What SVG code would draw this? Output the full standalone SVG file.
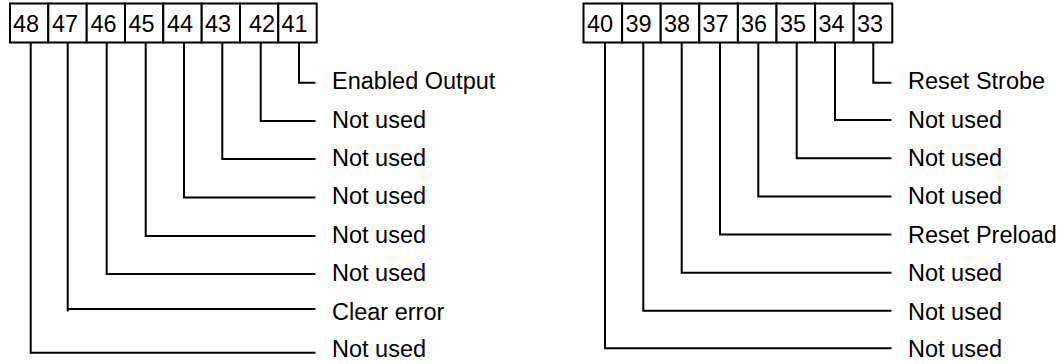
<svg xmlns="http://www.w3.org/2000/svg" width="1064" height="364" viewBox="0 0 1064 364">
<style>
.cell{fill:#fff;stroke:#000;stroke-width:2}
.num{font-family:"Liberation Sans",Arial,sans-serif;font-size:23.5px;fill:#000}
.lbl{font-family:"Liberation Sans",Arial,sans-serif;font-size:23.5px;fill:#000}
.wire{fill:none;stroke:#000;stroke-width:2;stroke-linecap:square;stroke-linejoin:miter}
</style>
<rect width="1064" height="364" fill="#fff"/>
<g id="connector-box-left">
<g id="pin-48"><rect class="cell" x="10" y="3.5" width="38.3" height="39"/><text class="num" x="13" y="32">48</text></g>
<g id="pin-47"><rect class="cell" x="48.3" y="3.5" width="38.4" height="39"/><text class="num" x="52" y="32">47</text></g>
<g id="pin-46"><rect class="cell" x="86.7" y="3.5" width="38.3" height="39"/><text class="num" x="90.5" y="32">46</text></g>
<g id="pin-45"><rect class="cell" x="125" y="3.5" width="38.3" height="39"/><text class="num" x="128.5" y="32">45</text></g>
<g id="pin-44"><rect class="cell" x="163.3" y="3.5" width="38.4" height="39"/><text class="num" x="167" y="32">44</text></g>
<g id="pin-43"><rect class="cell" x="201.7" y="3.5" width="38.3" height="39"/><text class="num" x="205" y="32">43</text></g>
<g id="pin-42"><rect class="cell" x="240" y="3.5" width="38.3" height="39"/><text class="num" x="249" y="32">42</text></g>
<g id="pin-41"><rect class="cell" x="278.3" y="3.5" width="38.4" height="39"/><text class="num" x="281.5" y="32">41</text></g>
</g>
<g id="connector-box-right">
<g id="pin-40"><rect class="cell" x="583.5" y="3.5" width="38.6" height="39"/><text class="num" x="587" y="32">40</text></g>
<g id="pin-39"><rect class="cell" x="622.1" y="3.5" width="38.6" height="39"/><text class="num" x="625.5" y="32">39</text></g>
<g id="pin-38"><rect class="cell" x="660.7" y="3.5" width="38.6" height="39"/><text class="num" x="664" y="32">38</text></g>
<g id="pin-37"><rect class="cell" x="699.3" y="3.5" width="38.6" height="39"/><text class="num" x="702.5" y="32">37</text></g>
<g id="pin-36"><rect class="cell" x="737.9" y="3.5" width="38.6" height="39"/><text class="num" x="741" y="32">36</text></g>
<g id="pin-35"><rect class="cell" x="776.5" y="3.5" width="38.6" height="39"/><text class="num" x="780" y="32">35</text></g>
<g id="pin-34"><rect class="cell" x="815.1" y="3.5" width="38.6" height="39"/><text class="num" x="818.5" y="32">34</text></g>
<g id="pin-33"><rect class="cell" x="853.7" y="3.5" width="38.6" height="39"/><text class="num" x="857" y="32">33</text></g>
</g>
<g id="connectors">
<path class="wire" d="M299 43.5V82.7H314.5"/>
<path class="wire" d="M260.7 43.5V121H314.5"/>
<path class="wire" d="M222.3 43.5V159H314.5"/>
<path class="wire" d="M184 43.5V197.5H314.5"/>
<path class="wire" d="M145.7 43.5V236H314.5"/>
<path class="wire" d="M106.7 43.5V274H314.5"/>
<path class="wire" d="M67.7 43.5V310.5M67.7 309H314.5"/>
<path class="wire" d="M30.7 43.5V352.7H314.5"/>
<path class="wire" d="M873.3 43.5V82.7H890.5"/>
<path class="wire" d="M835 43.5V120H890.5"/>
<path class="wire" d="M796.7 43.5V158.3H890.5"/>
<path class="wire" d="M758.3 43.5V196.5H890.5"/>
<path class="wire" d="M720 43.5V234.5H890.5"/>
<path class="wire" d="M681.7 43.5V272.7H890.5"/>
<path class="wire" d="M643.3 43.5V310.7H890.5"/>
<path class="wire" d="M605 43.5V348.3H890.5"/>
</g>
<g id="labels-left">
<text id="label-41" class="lbl" x="332" y="89">Enabled Output</text>
<text id="label-42" class="lbl" x="332" y="127.5">Not used</text>
<text id="label-43" class="lbl" x="332" y="166">Not used</text>
<text id="label-44" class="lbl" x="332" y="204.3">Not used</text>
<text id="label-45" class="lbl" x="332" y="242.7">Not used</text>
<text id="label-46" class="lbl" x="332" y="281.2">Not used</text>
<text id="label-47" class="lbl" x="332" y="319.6">Clear error</text>
<text id="label-48" class="lbl" x="332" y="357.3">Not used</text>
</g>
<g id="labels-right">
<text id="label-33" class="lbl" x="908" y="89">Reset Strobe</text>
<text id="label-34" class="lbl" x="908" y="127.5">Not used</text>
<text id="label-35" class="lbl" x="908" y="166">Not used</text>
<text id="label-36" class="lbl" x="908" y="204.3">Not used</text>
<text id="label-37" class="lbl" x="908" y="242.7">Reset Preload</text>
<text id="label-38" class="lbl" x="908" y="281.2">Not used</text>
<text id="label-39" class="lbl" x="908" y="319.6">Not used</text>
<text id="label-40" class="lbl" x="908" y="357.3">Not used</text>
</g>
</svg>
